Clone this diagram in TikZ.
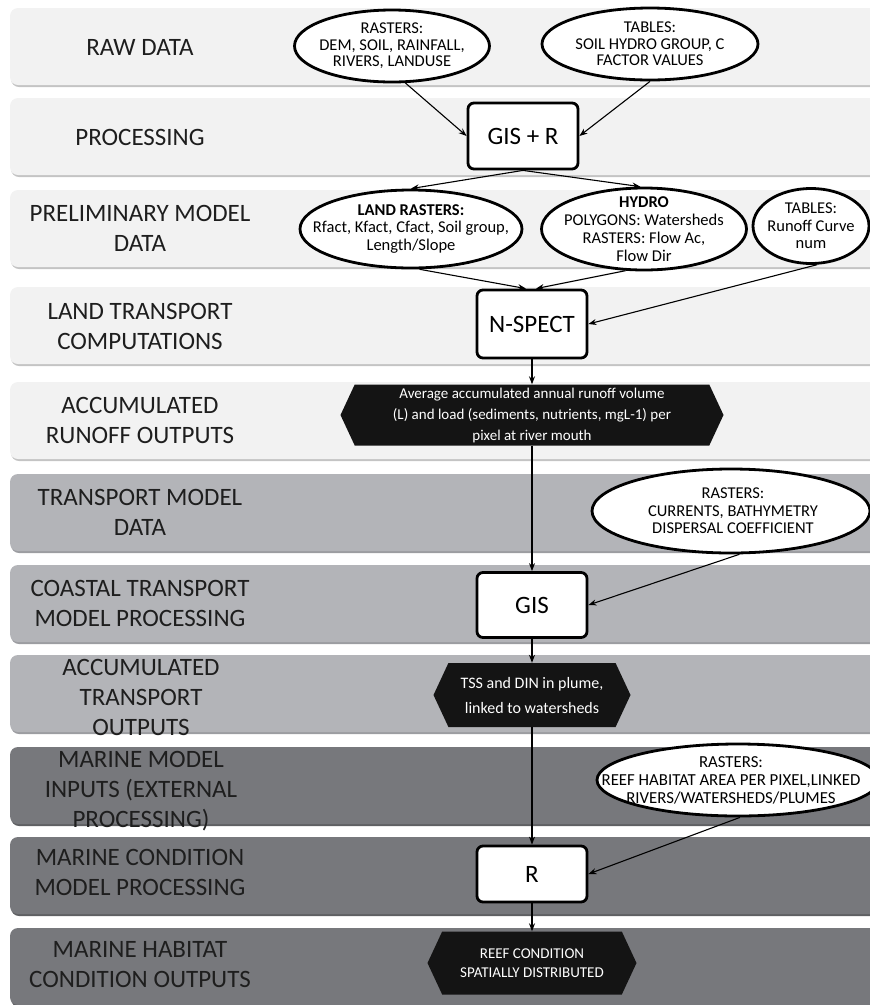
\documentclass[tikz,border=0pt]{standalone}
\usepackage{fontspec}
\setmainfont{Carlito}
\usetikzlibrary{arrows.meta,shapes.geometric,shapes.symbols}
\definecolor{bandA}{HTML}{F2F2F2}
\definecolor{bandB}{HTML}{B3B4B8}
\definecolor{bandC}{HTML}{77787C}
\definecolor{shadA}{HTML}{C4C4C4}
\definecolor{shadB}{HTML}{9C9DA1}
\definecolor{shadC}{HTML}{5F6063}
\definecolor{lbltext}{HTML}{1E1E1E}
\begin{document}
\begin{tikzpicture}[x=1pt,y=-1pt,
  lbl/.style={align=center, font=\fontsize{25}{30}\selectfont, text=lbltext, inner sep=0pt},
  ell/.style={draw=black, line width=2.8pt, ellipse, fill=white, inner sep=0pt},
  etxt/.style={align=center, font=\fontsize{16.5}{17.5}\selectfont, inner sep=0pt},
  box/.style={draw=black, line width=2.8pt, rounded corners=6pt, fill=white, minimum width=110pt, minimum height=66pt, font=\fontsize{25}{30}\selectfont, inner sep=0pt},
  hex/.style={signal, signal to=west and east, signal pointer angle=130, fill=black!92, text=white, align=center, inner sep=0pt},
  arr/.style={-{Stealth[length=8pt,width=6pt]}, line width=1.1pt},
]
\useasboundingbox (0,0) rectangle (870,1005);
\clip (0,0) rectangle (870,1005);
% bands
\foreach \t/\c/\s in {8/bandA/shadA, 98/bandA/shadA, 190/bandA/shadA, 287/bandA/shadA, 382/bandA/shadA, 474/bandB/shadB, 565/bandB/shadB, 655/bandB/shadB, 747/bandC/shadC, 837/bandC/shadC, 928/bandC/shadC}{
  \fill[\s, rounded corners=8pt] (11,\t+2.5) rectangle (900,\t+79);
  \fill[\c, rounded corners=8pt] (10,\t) rectangle (900,\t+77);
}
% labels
\node[lbl] (l1) at (140,47) {RAW DATA};
\node[lbl] (l2) at (140,137) {PROCESSING};
\node[lbl] (l3) at (140,228) {PRELIMINARY MODEL\\DATA};
\node[lbl] (l4) at (140,326) {LAND TRANSPORT\\COMPUTATIONS};
\node[lbl] (l5) at (140,420) {ACCUMULATED\\RUNOFF OUTPUTS};
\node[lbl] (l6) at (140,512) {TRANSPORT MODEL\\DATA};
\node[lbl] (l7) at (140,603) {COASTAL TRANSPORT\\MODEL PROCESSING};
\node[lbl] (l8) at (141,697) {ACCUMULATED\\TRANSPORT\\OUTPUTS};
\node[lbl] (l9) at (141,791) {MARINE MODEL\\INPUTS (EXTERNAL\\PROCESSING)};
\node[lbl] (l10) at (140,872) {MARINE CONDITION\\MODEL PROCESSING};
\node[lbl] (l11) at (140,965) {MARINE HABITAT\\CONDITION OUTPUTS};
% ellipses
\node[ell, minimum width=195pt, minimum height=72pt] (r1) at (392,46) {};
\node[etxt, font=\fontsize{16.5}{16.5}\selectfont] (r1t) at (r1) {RASTERS:\\DEM, SOIL, RAINFALL,\\RIVERS, LANDUSE};
\node[ell, minimum width=216pt, minimum height=72pt] (t1) at (650,44) {};
\node[etxt, font=\fontsize{16.5}{16.5}\selectfont] (t1t) at (t1) {TABLES:\\SOIL HYDRO GROUP, C\\FACTOR VALUES};
\node[ell, minimum width=222pt, minimum height=78pt] (landr) at (411,229) {};
\node[etxt] (landrt) at (landr) {\textbf{LAND RASTERS:}\\Rfact, Kfact, Cfact, Soil group,\\Length/Slope};
\node[ell, minimum width=205pt, minimum height=82pt] (hydro) at (644,229) {};
\node[etxt, font=\fontsize{16.5}{18}\selectfont] (hydrot) at (hydro) {\textbf{HYDRO}\\POLYGONS: Watersheds\\RASTERS: Flow Ac,\\Flow Dir};
\node[ell, minimum width=116pt, minimum height=75pt] (runoff) at (811,226) {};
\node[etxt] (runofft) at (runoff) {TABLES:\\Runoff Curve\\num};
\node[ell, minimum width=278pt, minimum height=84pt] (currents) at (731,511) {};
\node[etxt] (currentst) at (733,511) {RASTERS:\\CURRENTS, BATHYMETRY\\DISPERSAL COEFFICIENT};
\node[ell, minimum width=282pt, minimum height=72pt] (reef) at (738,780) {};
\node[etxt, font=\fontsize{16.8}{18}\selectfont] (reeft) at (731,780) {RASTERS:\\REEF HABITAT AREA PER PIXEL,LINKED\\RIVERS/WATERSHEDS/PLUMES};
% boxes
\node[box] (gisr) at (523,136) {GIS + R};
\node[box, minimum height=68pt] (nspect) at (532,324) {N-SPECT};
\node[box, minimum height=65pt] (gis) at (532,605) {GIS};
\node[box, minimum height=56pt] (rbox) at (532,874) {R};
% hexagons
\node[hex, minimum width=383pt, minimum height=61pt, font=\fontsize{15}{21}\selectfont] (hex1) at (532,415) {Average accumulated annual runoff volume\\(L) and load (sediments, nutrients, mgL-1) per\\pixel at river mouth};
\node[hex, minimum width=197pt, minimum height=64pt, font=\fontsize{16}{25}\selectfont] (hex2) at (532,695) {TSS and DIN in plume,\\linked to watersheds};
\node[hex, minimum width=209pt, minimum height=63pt, font=\fontsize{15}{19}\selectfont] (hex3) at (532,963) {REEF CONDITION\\SPATIALLY DISTRIBUTED};
% connectors
\draw[arr] (r1.-70) -- (gisr.west);
\draw[arr] (t1.south) -- (gisr.east);
\draw[arr] (gisr.south) -- (landr.north);
\draw[arr] (gisr.south) -- (hydro.95);
\draw[arr] (landr.-78) -- ([xshift=-6pt]nspect.north);
\draw[arr] (hydro.-114) -- ([xshift=4pt]nspect.north);
\draw[arr] (runoff.-81) -- (nspect.east);
\draw[arr] (nspect.south) -- (hex1.north);
\draw[arr] (hex1.south) -- (gis.north);
\draw[arr] (currents.-79) -- (gis.east);
\draw[arr] (gis.south) -- (hex2.north);
\draw[arr] (hex2.south) -- (rbox.north);
\draw[arr] (reef.-87) -- (rbox.east);
\draw[arr] (rbox.south) -- (hex3.north);
\end{tikzpicture}
\end{document}
